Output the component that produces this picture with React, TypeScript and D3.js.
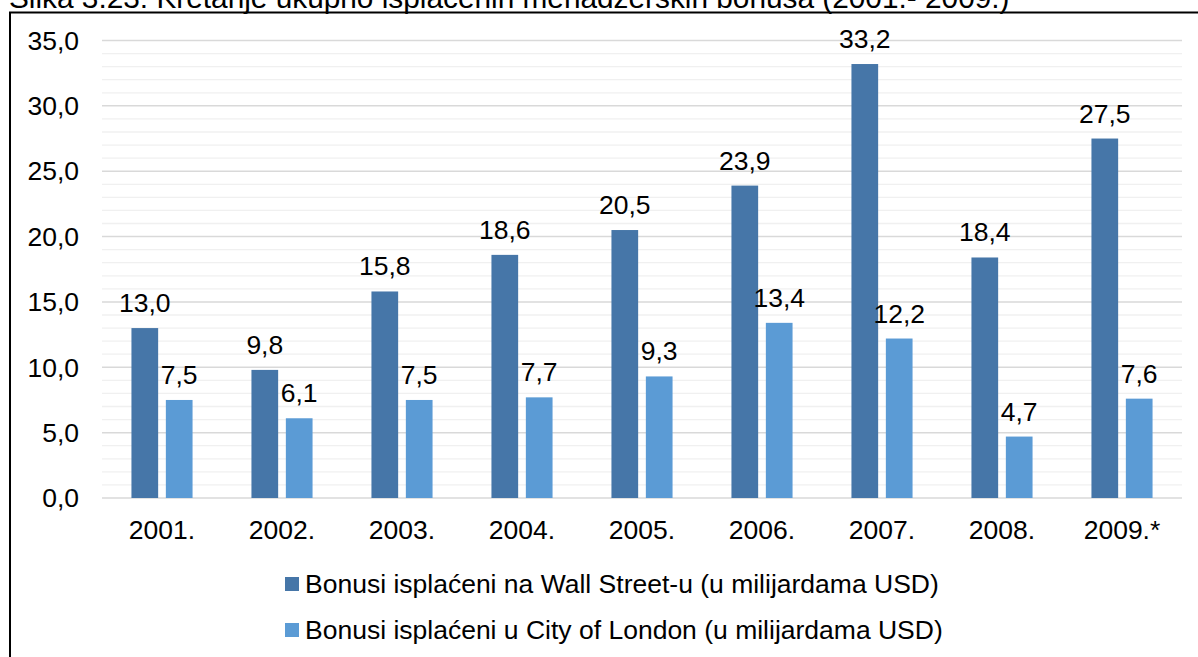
import { useEffect, useRef } from "react";
import * as d3 from "d3";

const years = ["2001.", "2002.", "2003.", "2004.", "2005.", "2006.", "2007.", "2008.", "2009.*"];
const wallStreet = [13.0, 9.8, 15.8, 18.6, 20.5, 23.9, 33.2, 18.4, 27.5];
const cityOfLondon = [7.5, 6.1, 7.5, 7.7, 9.3, 13.4, 12.2, 4.7, 7.6];
const seriesNames = [
  "Bonusi isplaćeni na Wall Street-u (u milijardama USD)",
  "Bonusi isplaćeni u City of London (u milijardama USD)",
];
const colors = ["#4676A8", "#5B9BD5"];
const title = "Slika 3.23: Kretanje ukupno isplaćenih menadžerskih bonusa (2001.- 2009.)";

const W = 1198;
const H = 657;
const FONT = "'Liberation Sans', Arial, sans-serif";
const FS = 26.5;

export default function App() {
  const ref = useRef<SVGSVGElement>(null);

  useEffect(() => {
    const svg = d3.select(ref.current);
    svg.selectAll("*").remove();

    const margin = { left: 102, right: 16, top: 40.5, bottom: 159 };
    const fmt = (v: number) => v.toFixed(1).replace(".", ",");

    // title (cut off by the frame in the original)
    svg
      .append("text")
      .attr("x", 9)
      .attr("y", 8)
      .attr("font-family", FONT)
      .attr("font-size", 29.8)
      .attr("fill", "#000")
      .text(title);

    // frame
    svg
      .append("path")
      .attr("d", `M10,${H} V12.5 H${W}`)
      .attr("fill", "none")
      .attr("stroke", "#000")
      .attr("stroke-width", 2);

    const x0 = d3
      .scaleBand()
      .domain(years)
      .range([margin.left, W - margin.right]);

    const x1 = d3
      .scaleBand()
      .domain(["ws", "lon"])
      .range([0, x0.bandwidth()])
      .paddingInner(0.224)
      .paddingOuter(0.856);

    const y = d3
      .scaleLinear()
      .domain([0, 35])
      .range([H - margin.bottom, margin.top]);

    // minor grid
    svg
      .append("g")
      .selectAll("line")
      .data(d3.range(1, 35).filter((v) => v % 5 !== 0))
      .join("line")
      .attr("x1", margin.left)
      .attr("x2", W - margin.right)
      .attr("y1", (d) => y(d))
      .attr("y2", (d) => y(d))
      .attr("stroke", "#f0f0f0")
      .attr("stroke-width", 1.3);

    // major grid
    svg
      .append("g")
      .selectAll("line")
      .data(d3.range(0, 36, 5))
      .join("line")
      .attr("x1", margin.left)
      .attr("x2", W - margin.right)
      .attr("y1", (d) => y(d))
      .attr("y2", (d) => y(d))
      .attr("stroke", "#d9d9d9")
      .attr("stroke-width", 1.5);

    // y axis labels
    svg
      .append("g")
      .selectAll("text")
      .data(d3.range(0, 36, 5))
      .join("text")
      .attr("x", 79)
      .attr("y", (d) => y(d))
      .attr("dy", "0.35em")
      .attr("text-anchor", "end")
      .attr("font-family", FONT)
      .attr("font-size", FS)
      .attr("fill", "#000")
      .text((d) => fmt(d));

    // x axis labels
    svg
      .append("g")
      .selectAll("text")
      .data(years)
      .join("text")
      .attr("x", (d) => (x0(d) ?? 0) + x0.bandwidth() / 2)
      .attr("y", y(0) + 41)
      .attr("text-anchor", "middle")
      .attr("font-family", FONT)
      .attr("font-size", FS)
      .attr("fill", "#000")
      .text((d) => d);

    const rows = years.map((yr, i) => ({ yr, ws: wallStreet[i], lon: cityOfLondon[i] }));
    const keys = ["ws", "lon"] as const;

    keys.forEach((k, si) => {
      const g = svg.append("g");
      g.selectAll("rect")
        .data(rows)
        .join("rect")
        .attr("x", (d) => (x0(d.yr) ?? 0) + (x1(k) ?? 0))
        .attr("width", x1.bandwidth())
        .attr("y", (d) => y(d[k]))
        .attr("height", (d) => y(0) - y(d[k]))
        .attr("fill", colors[si]);

      g.selectAll("text")
        .data(rows)
        .join("text")
        .attr("x", (d) => (x0(d.yr) ?? 0) + (x1(k) ?? 0) + x1.bandwidth() / 2)
        .attr("y", (d) => y(d[k]) - 16)
        .attr("text-anchor", "middle")
        .attr("font-family", FONT)
        .attr("font-size", FS)
        .attr("fill", "#000")
        .text((d) => fmt(d[k]));
    });

    // legend
    const legend = svg
      .append("g")
      .selectAll("g")
      .data(seriesNames)
      .join("g")
      .attr("transform", (_, i) => `translate(285,${577 + i * 46})`);
    legend
      .append("rect")
      .attr("width", 14)
      .attr("height", 14)
      .attr("fill", (_, i) => colors[i]);
    legend
      .append("text")
      .attr("x", 20)
      .attr("y", 7)
      .attr("dy", "0.35em")
      .attr("font-family", FONT)
      .attr("font-size", FS)
      .attr("fill", "#000")
      .text((d) => d);
  }, []);

  return (
    <svg
      ref={ref}
      width={W}
      height={H}
      style={{ position: "absolute", left: 0, top: 0, background: "#fff" }}
    ></svg>
  );
}
